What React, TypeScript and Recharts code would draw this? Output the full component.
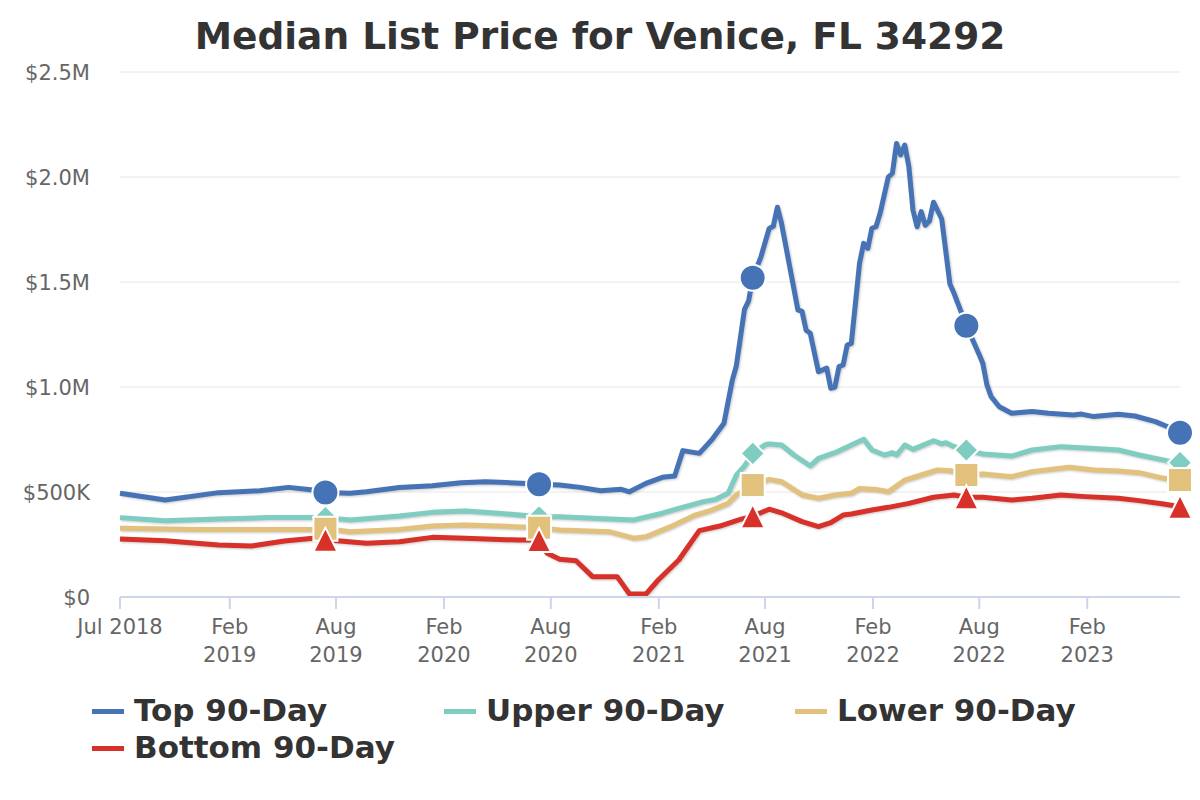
import { CartesianGrid, Line, LineChart, XAxis, YAxis } from "recharts";

const START = Date.UTC(2018, 6, 29);
const WEEK = 7 * 24 * 3600 * 1000;

// weeks since START, values in $K
const topWeeks = [0, 11, 24, 34, 41, 47, 50, 56, 60, 68, 76, 83, 89, 99, 102, 107, 112, 117, 122, 124, 128, 132, 135, 137, 141, 144, 147, 149, 150, 152, 153, 154, 156, 158, 159, 160, 161, 165, 166, 167, 168, 170, 172, 173, 174, 175, 176, 177, 178, 180, 181, 182, 183, 184, 185, 187, 188, 189, 190, 191, 192, 193, 194, 195, 196, 197, 198, 200, 202, 203, 206, 209, 210, 211, 212, 214, 217, 222, 226, 232, 234, 237, 243, 247, 252, 255, 258];
const topValues = [494, 462, 497, 506, 522, 510, 498, 494, 501, 521, 530, 544, 549, 541, 537, 533, 522, 506, 513, 501, 541, 570, 576, 697, 684, 748, 827, 1030, 1100, 1370, 1410, 1520, 1620, 1755, 1765, 1856, 1780, 1367, 1360, 1270, 1256, 1073, 1090, 994, 1000, 1097, 1105, 1200, 1208, 1589, 1684, 1660, 1756, 1763, 1827, 2000, 2018, 2160, 2105, 2152, 2050, 1843, 1763, 1835, 1770, 1790, 1880, 1800, 1490, 1446, 1292, 1160, 1113, 1010, 955, 906, 875, 883, 875, 867, 871, 859, 870, 862, 835, 811, 782];

const upperWeeks = [0, 11, 24, 36, 47, 50, 56, 68, 76, 84, 92, 100, 102, 107, 115, 125, 132, 136, 142, 145, 148, 150, 152, 154, 157, 158, 161, 164, 168, 170, 174, 178, 181, 183, 186, 188, 189, 191, 193, 198, 200, 201, 203, 206, 210, 217, 222, 229, 236, 243, 248, 255, 258];
const upperValues = [378, 363, 371, 378, 379, 378, 367, 386, 403, 410, 399, 386, 382, 382, 375, 367, 399, 422, 454, 465, 494, 580, 624, 684, 725, 729, 724, 676, 624, 660, 687, 724, 751, 700, 676, 687, 676, 724, 703, 744, 729, 735, 716, 700, 681, 671, 700, 716, 708, 700, 676, 648, 640];

const lowerWeeks = [0, 19, 36, 47, 50, 56, 68, 76, 84, 96, 102, 107, 119, 125, 128, 134, 140, 144, 148, 150, 154, 158, 161, 166, 170, 174, 178, 180, 184, 187, 191, 195, 199, 202, 206, 210, 217, 222, 231, 237, 243, 248, 254, 258];
const lowerValues = [327, 322, 322, 322, 325, 311, 322, 338, 343, 335, 330, 319, 311, 280, 287, 335, 390, 414, 446, 486, 533, 560, 549, 486, 470, 486, 494, 517, 512, 501, 557, 581, 605, 601, 581, 586, 573, 597, 618, 605, 600, 592, 565, 557];

const bottomWeeks = [0, 11, 24, 32, 40, 47, 50, 60, 68, 76, 84, 97, 102, 104, 107, 111, 115, 121, 124, 128, 131, 136, 141, 146, 151, 154, 158, 161, 166, 170, 173, 176, 178, 183, 187, 192, 198, 203, 206, 210, 217, 222, 229, 235, 243, 248, 254, 258];
const bottomValues = [276, 268, 248, 243, 267, 280, 273, 256, 263, 284, 280, 271, 271, 208, 180, 173, 97, 97, 14, 14, 81, 176, 316, 338, 370, 385, 418, 401, 359, 335, 354, 390, 395, 414, 427, 446, 475, 486, 475, 475, 462, 470, 486, 478, 470, 459, 443, 430];

const markerWeeks = [50, 102, 154, 206, 258];

const tickDates = [START, Date.UTC(2019, 1, 1), Date.UTC(2019, 7, 1), Date.UTC(2020, 1, 1), Date.UTC(2020, 7, 1), Date.UTC(2021, 1, 1), Date.UTC(2021, 7, 1), Date.UTC(2022, 1, 1), Date.UTC(2022, 7, 1), Date.UTC(2023, 1, 1)];
const tickLabels = [["Jul 2018"], ["Feb", "2019"], ["Aug", "2019"], ["Feb", "2020"], ["Aug", "2020"], ["Feb", "2021"], ["Aug", "2021"], ["Feb", "2022"], ["Aug", "2022"], ["Feb", "2023"]];

const yTicks = [0, 500000, 1000000, 1500000, 2000000, 2500000];
const yTickLabels = ["$0", "$500K", "$1.0M", "$1.5M", "$2.0M", "$2.5M"];

const FONT = "'DejaVu Sans', sans-serif";

const SERIES = [
  { key: "top", name: "Top 90-Day", color: "#4673b6", shape: "circle", weeks: topWeeks, values: topValues },
  { key: "upper", name: "Upper 90-Day", color: "#7fcdc0", shape: "diamond", weeks: upperWeeks, values: upperValues },
  { key: "lower", name: "Lower 90-Day", color: "#e1c17c", shape: "square", weeks: lowerWeeks, values: lowerValues },
  { key: "bottom", name: "Bottom 90-Day", color: "#d7312a", shape: "triangle", weeks: bottomWeeks, values: bottomValues },
];

function buildRows() {
  const all = new Set<number>();
  SERIES.forEach((s) => s.weeks.forEach((w) => all.add(w)));
  return [...all]
    .sort((a, b) => a - b)
    .map((w) => {
      const row: Record<string, number> = { w, t: START + w * WEEK };
      SERIES.forEach((s) => {
        const i = s.weeks.indexOf(w);
        if (i >= 0) row[s.key] = s.values[i] * 1000;
      });
      return row;
    });
}

const rows = buildRows();

function Marker(props: any) {
  const { cx, cy, payload, dataKey, shape, color } = props;
  if (cx == null || cy == null || payload?.[dataKey] == null) return null;
  if (!markerWeeks.includes(payload.w)) return null;
  const r = 12;
  const common = { fill: color, stroke: "#ffffff", strokeWidth: 2 };
  if (shape === "circle") return <circle cx={cx} cy={cy} r={r + 1} {...common} />;
  if (shape === "square") return <rect x={cx - r} y={cy - r} width={2 * r} height={2 * r} {...common} />;
  if (shape === "diamond")
    return <path d={`M${cx},${cy - r}L${cx + r},${cy}L${cx},${cy + r}L${cx - r},${cy}Z`} {...common} />;
  return <path d={`M${cx},${cy - r}L${cx + r},${cy + r}L${cx - r},${cy + r}Z`} {...common} />;
}

function DateTick({ x, y, payload }: any) {
  const i = tickDates.indexOf(payload.value);
  const lines = tickLabels[i] ?? [];
  return (
    <text x={x} y={y} textAnchor="middle" fill="#666666" fontSize={21} fontFamily={FONT}>
      {lines.map((l, k) => (
        <tspan key={k} x={x} dy={k === 0 ? 25 : 28}>
          {l}
        </tspan>
      ))}
    </text>
  );
}

function PriceTick({ x, y, payload }: any) {
  const i = yTicks.indexOf(payload.value);
  return (
    <text x={x} y={y + 8} textAnchor="end" fill="#666666" fontSize={21} fontFamily={FONT}>
      {yTickLabels[i]}
    </text>
  );
}

const legendCols = [92, 444, 795];

export default function App() {
  return (
    <div style={{ position: "absolute", left: 0, top: 0, width: 1200, height: 800, background: "#fff", fontFamily: FONT }}>
      <style>{`.recharts-line-curve{filter:drop-shadow(1px 1px 1px rgba(0,0,0,0.22));}`}</style>
      <div
        style={{
          position: "absolute",
          top: 14,
          left: 0,
          width: 1200,
          textAlign: "center",
          fontSize: 37.5,
          lineHeight: "44px",
          fontWeight: "bold",
          color: "#333333",
        }}
      >
        Median List Price for Venice, FL 34292
      </div>
      <LineChart width={1200} height={800} data={rows} margin={{ top: 72, right: 20, bottom: 143, left: 20 }}>
        <CartesianGrid horizontal vertical={false} stroke="#e6e6e6" />
        <XAxis
          dataKey="t"
          type="number"
          domain={[START, START + 258 * WEEK]}
          ticks={tickDates}
          interval={0}
          tick={<DateTick />}
          height={60}
          tickSize={12}
          tickMargin={0}
          axisLine={{ stroke: "#ccd6eb", strokeWidth: 2 }}
          tickLine={{ stroke: "#ccd6eb", strokeWidth: 2 }}
        />
        <YAxis
          type="number"
          domain={[0, 2500000]}
          ticks={yTicks}
          tick={<PriceTick />}
          width={100}
          tickSize={0}
          tickMargin={30}
          axisLine={false}
          tickLine={false}
        />
        {SERIES.map((s) => (
          <Line
            key={s.key}
            dataKey={s.key}
            name={s.name}
            type="linear"
            stroke={s.color}
            strokeWidth={5}
            strokeLinejoin="round"
            connectNulls
            isAnimationActive={false}
            activeDot={false}
            dot={(p: any) => <Marker key={`${s.key}-${p.index}`} {...p} dataKey={s.key} shape={s.shape} color={s.color} />}
          />
        ))}
      </LineChart>
      {SERIES.map((s, i) => {
        const left = legendCols[i % 3];
        const top = i < 3 ? 710 : 747;
        return (
          <div key={s.key}>
            <div style={{ position: "absolute", left, top: top - 1, width: 32, height: 5, background: s.color }} />
            <div
              style={{
                position: "absolute",
                left: left + 42,
                top: top - 15,
                fontSize: 31,
                lineHeight: "30px",
                fontWeight: "bold",
                color: "#333333",
                whiteSpace: "nowrap",
              }}
            >
              {s.name}
            </div>
          </div>
        );
      })}
    </div>
  );
}
